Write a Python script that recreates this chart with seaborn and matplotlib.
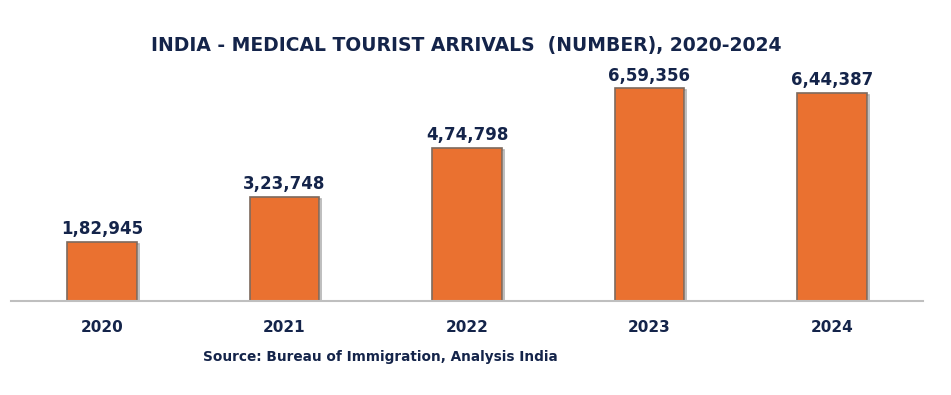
"""
Medical tourist arrivals bar chart, saved as out.png.
"""

import matplotlib
matplotlib.use("Agg")
import matplotlib.pyplot as plt
import matplotlib.patheffects as pe
import pandas as pd
import seaborn as sns

YEARS = ["2020", "2021", "2022", "2023", "2024"]
ARRIVALS = [182945, 323748, 474798, 659356, 644387]

TITLE = "INDIA - MEDICAL TOURIST ARRIVALS  (NUMBER), 2020-2024"
SOURCE = "Source: Bureau of Immigration, Analysis India"

NAVY = "#14244a"
ORANGE = "#ea7130"


def indian_format(n: int) -> str:
    """1,82,945 style grouping."""
    s = str(n)
    if len(s) <= 3:
        return s
    head, tail = s[:-3], s[-3:]
    parts = []
    while len(head) > 2:
        parts.insert(0, head[-2:])
        head = head[:-2]
    if head:
        parts.insert(0, head)
    return ",".join(parts + [tail])


sns.set_style("white")
plt.rcParams["font.family"] = ["DejaVu Sans"]

df = pd.DataFrame({"year": YEARS, "arrivals": ARRIVALS})

fig = plt.figure(figsize=(9.51, 3.95), dpi=100)
ax = fig.add_axes([0.0113, 0.238, 0.9595, 0.653])

sns.barplot(data=df, x="year", y="arrivals", color=ORANGE, width=0.38,
            saturation=1, edgecolor="#7d6a5e", linewidth=1.2, ax=ax)
for bar in ax.patches:
    bar.set_path_effects([pe.SimpleLineShadow(offset=(1.5, -1.5), alpha=0.3),
                          pe.Normal()])

for bar, val in zip(ax.patches, ARRIVALS):
    ax.text(bar.get_x() + bar.get_width() / 2, bar.get_height() + 12000,
            indian_format(val), ha="center", va="bottom",
            fontsize=12, fontweight="bold", color=NAVY)

ax.set_xlim(-0.5, 4.5)
ax.set_ylim(0, 800000)
ax.set_xlabel("")
ax.set_ylabel("")
ax.set_yticks([])
ax.tick_params(axis="x", length=0, pad=14, labelsize=11, labelcolor=NAVY)
for lbl in ax.get_xticklabels():
    lbl.set_fontweight("bold")

for side in ["top", "right", "left"]:
    ax.spines[side].set_visible(False)
ax.spines["bottom"].set_color("#bfbfbf")
ax.spines["bottom"].set_linewidth(1.5)

fig.text(0.49, 0.885, TITLE, ha="center", va="center", fontsize=13.5,
         fontweight="bold", color=NAVY)
fig.text(0.40, 0.095, SOURCE, ha="center", va="center", fontsize=9.8,
         fontweight="bold", color=NAVY)

fig.savefig("out.png", dpi=100, facecolor="white")
plt.close(fig)
